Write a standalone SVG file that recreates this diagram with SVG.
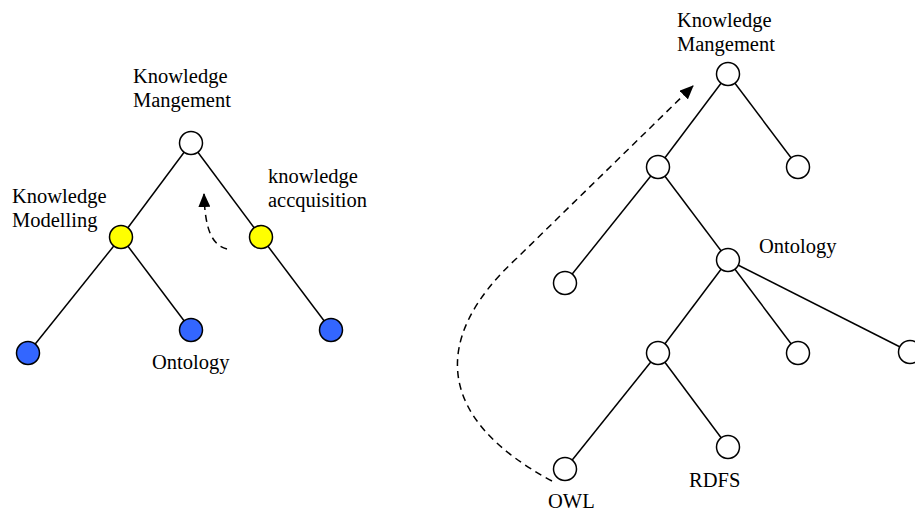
<svg xmlns="http://www.w3.org/2000/svg" width="915" height="512" viewBox="0 0 915 512">
  <style>
    .edge { stroke: #000; stroke-width: 1.5; fill: none; }
    .flow { stroke: #000; stroke-width: 1.5; fill: none; stroke-dasharray: 7 5; }
    .node { stroke: #000; stroke-width: 1.5; fill: #fff; }
    .yellow { fill: #ffff00; }
    .blue { fill: #3366ff; }
    text { font-family: "Liberation Serif", "Times New Roman", serif; font-size: 20.5px; fill: #000; }
  </style>
  <defs>
    <marker id="arrow" viewBox="0 0 14 12" refX="13" refY="6" markerWidth="14" markerHeight="12" markerUnits="userSpaceOnUse" orient="auto">
      <path d="M0,0 L14,6 L0,12 Z" fill="#000"/>
    </marker>
  </defs>
  <rect width="915" height="512" fill="#fff"/>

  <!-- connectors -->
  <g id="connectors">
    <!-- left tree -->
    <line class="edge" x1="191" y1="143" x2="121" y2="237"/>
    <line class="edge" x1="191" y1="143" x2="261" y2="237"/>
    <line class="edge" x1="121" y1="237" x2="28" y2="353"/>
    <line class="edge" x1="121" y1="237" x2="191" y2="330"/>
    <line class="edge" x1="261" y1="237" x2="331" y2="330"/>
    <path class="flow" d="M227,249 C212,245 205,230 204,194" marker-end="url(#arrow)"/>
    <!-- right tree -->
    <line class="edge" x1="728" y1="74" x2="658" y2="167"/>
    <line class="edge" x1="728" y1="74" x2="798" y2="167"/>
    <line class="edge" x1="658" y1="167" x2="565" y2="283"/>
    <line class="edge" x1="658" y1="167" x2="728" y2="260"/>
    <line class="edge" x1="728" y1="260" x2="658" y2="353"/>
    <line class="edge" x1="728" y1="260" x2="798" y2="353"/>
    <line class="edge" x1="728" y1="260" x2="910" y2="352"/>
    <line class="edge" x1="658" y1="353" x2="565" y2="469"/>
    <line class="edge" x1="658" y1="353" x2="728" y2="447"/>
    <path class="flow" d="M552,481 C438,420 428,340 517,258 L693,86" marker-end="url(#arrow)"/>
  </g>

  <!-- left tree nodes -->
  <g id="km-left">
    <circle class="node" cx="191" cy="143" r="11.5"/>
    <text x="133" y="83">Knowledge</text>
    <text x="133" y="107">Mangement</text>
  </g>
  <g id="modelling">
    <circle class="node yellow" cx="121" cy="237" r="11.5"/>
    <text x="12" y="203">Knowledge</text>
    <text x="12" y="227">Modelling</text>
  </g>
  <g id="acquisition">
    <circle class="node yellow" cx="261" cy="237" r="11.5"/>
    <text x="268" y="183">knowledge</text>
    <text x="268" y="207">accquisition</text>
  </g>
  <g id="leaf-left">
    <circle class="node blue" cx="28" cy="353" r="11.5"/>
  </g>
  <g id="ontology-left">
    <circle class="node blue" cx="191" cy="330" r="11.5"/>
    <text x="152" y="369">Ontology</text>
  </g>
  <g id="leaf-acq">
    <circle class="node blue" cx="331" cy="330" r="11.5"/>
  </g>

  <!-- right tree nodes -->
  <g id="km-right">
    <circle class="node" cx="728" cy="74" r="11.5"/>
    <text x="677" y="27">Knowledge</text>
    <text x="677" y="51">Mangement</text>
  </g>
  <g id="r-a">
    <circle class="node" cx="658" cy="167" r="11.5"/>
  </g>
  <g id="r-b">
    <circle class="node" cx="798" cy="167" r="11.5"/>
  </g>
  <g id="r-c">
    <circle class="node" cx="565" cy="283" r="11.5"/>
  </g>
  <g id="ontology-right">
    <circle class="node" cx="728" cy="260" r="11.5"/>
    <text x="759" y="253">Ontology</text>
  </g>
  <g id="r-d">
    <circle class="node" cx="658" cy="353" r="11.5"/>
  </g>
  <g id="r-e">
    <circle class="node" cx="798" cy="353" r="11.5"/>
  </g>
  <g id="r-f">
    <circle class="node" cx="910" cy="352" r="11.5"/>
  </g>
  <g id="rdfs">
    <circle class="node" cx="728" cy="447" r="11.5"/>
    <text x="689" y="487">RDFS</text>
  </g>
  <g id="owl">
    <circle class="node" cx="565" cy="469" r="11.5"/>
    <text x="548" y="508">OWL</text>
  </g>
</svg>
